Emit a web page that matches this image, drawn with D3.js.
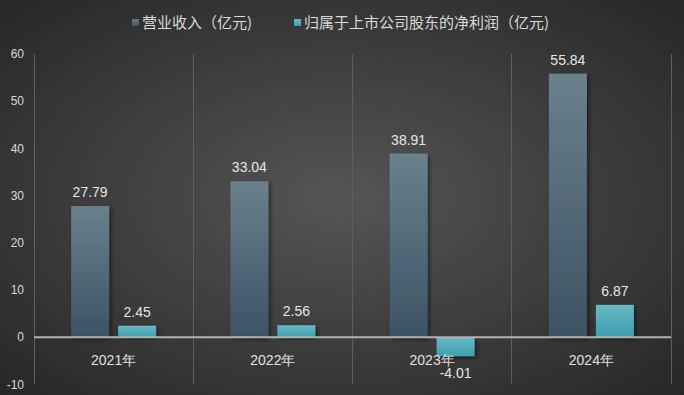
<!DOCTYPE html>
<html><head><meta charset="utf-8">
<script src="https://cdn.jsdelivr.net/npm/d3@7"></script>
<style>body{margin:0;background:#333;}svg{display:block;}</style>
</head><body>
<svg id="c" width="684" height="395"></svg>
<script>
const categories = ["2021年","2022年","2023年","2024年"];
const revenue = [27.79, 33.04, 38.91, 55.84];
const profit = [2.45, 2.56, -4.01, 6.87];
const seriesNames = ["营业收入（亿元)", "归属于上市公司股东的净利润（亿元)"];
const yTicks = [-10,0,10,20,30,40,50,60];

(function(){
const W=684,H=395;
const svg=d3.select("#c");
const defs=svg.append("defs");
const bg=defs.append("radialGradient").attr("id","bg").attr("cx","50%").attr("cy","50%").attr("r","70%");
bg.append("stop").attr("offset","0%").attr("stop-color","#555555");
bg.append("stop").attr("offset","100%").attr("stop-color","#272727");
const g1=defs.append("linearGradient").attr("id","g1").attr("x1",0).attr("y1",0).attr("x2",0).attr("y2",1);
g1.append("stop").attr("offset","0%").attr("stop-color","#6b808d");
g1.append("stop").attr("offset","100%").attr("stop-color","#3d5263");
const g2=defs.append("linearGradient").attr("id","g2").attr("x1",0).attr("y1",0).attr("x2",0).attr("y2",1);
g2.append("stop").attr("offset","0%").attr("stop-color","#68b9c6");
g2.append("stop").attr("offset","100%").attr("stop-color","#3e9dae");
const sh=defs.append("filter").attr("id","sh").attr("x","-30%").attr("y","-10%").attr("width","160%").attr("height","130%");
sh.append("feDropShadow").attr("dx",2).attr("dy",2).attr("stdDeviation",2).attr("flood-color","#000").attr("flood-opacity",0.5);

svg.append("rect").attr("width",W).attr("height",H).attr("fill","url(#bg)");

const pl=34,pr=671,pt=54,pb=384;
const x=d3.scaleBand().domain(categories).range([pl,pr]);
const y=d3.scaleLinear().domain([-10,60]).range([384.5,54]);
const font="'Liberation Sans', Arial, sans-serif";

const bounds=categories.map(c=>x(c)).concat([pr]);
svg.append("g").selectAll("line").data(bounds).join("line")
  .attr("x1",d=>d).attr("x2",d=>d).attr("y1",pt).attr("y2",pb)
  .attr("stroke","#5e5e5e").attr("stroke-width",1).attr("shape-rendering","crispEdges");

svg.append("g").selectAll("text").data(yTicks).join("text")
  .attr("x",24).attr("y",d=>y(d)).attr("dy","0.35em").attr("text-anchor","end")
  .attr("fill","#d9d9d9").attr("font-size",12).attr("font-family",font).text(d=>d);

const bw=38, gap=9;
const off0=(x.bandwidth()-(2*bw+gap))/2;
svg.append("g").selectAll("rect").data(revenue).join("rect")
  .attr("x",(d,i)=>x(categories[i])+off0).attr("width",bw)
  .attr("y",d=>y(Math.max(0,d))).attr("height",d=>Math.abs(y(d)-y(0)))
  .attr("fill","url(#g1)").attr("filter","url(#sh)");
svg.append("g").selectAll("rect").data(profit).join("rect")
  .attr("x",(d,i)=>x(categories[i])+off0+bw+gap).attr("width",bw)
  .attr("y",d=>y(Math.max(0,d))).attr("height",d=>Math.abs(y(d)-y(0)))
  .attr("fill","url(#g2)").attr("filter","url(#sh)");

svg.append("line").attr("x1",pl).attr("x2",pr).attr("y1",y(0)).attr("y2",y(0))
  .attr("stroke","#b3b3b3").attr("stroke-width",2);

const lab=(data,k)=>svg.append("g").selectAll("text").data(data).join("text")
  .attr("x",(d,i)=>x(categories[i])+off0+k*(bw+gap)+bw/2)
  .attr("y",d=>d>=0? y(d)-9 : y(d)+22)
  .attr("text-anchor","middle").attr("fill","#e6e6e6").attr("font-size",14).attr("font-family",font)
  .text(d=>d.toFixed(2));
lab(revenue,0); lab(profit,1);

svg.append("g").selectAll("text").data(categories).join("text")
  .attr("x",d=>x(d)+x.bandwidth()/2).attr("y",y(0)+28)
  .attr("text-anchor","middle").attr("fill","#e0e0e0").attr("font-size",14).attr("font-family",font).text(d=>d);

const lg=[{x:132,fill:"url(#g1)",t:seriesNames[0]},{x:294,fill:"url(#g2)",t:seriesNames[1]}];
lg.forEach(l=>{
  svg.append("rect").attr("x",l.x).attr("y",19).attr("width",7).attr("height",7).attr("fill",l.fill);
  svg.append("text").attr("x",l.x+10).attr("y",22.5).attr("dy","0.35em").attr("fill","#d9d9d9")
    .attr("font-size",15).attr("font-family","'Noto Sans CJK SC', sans-serif").text(l.t);
});
})();
</script>
</body></html>
